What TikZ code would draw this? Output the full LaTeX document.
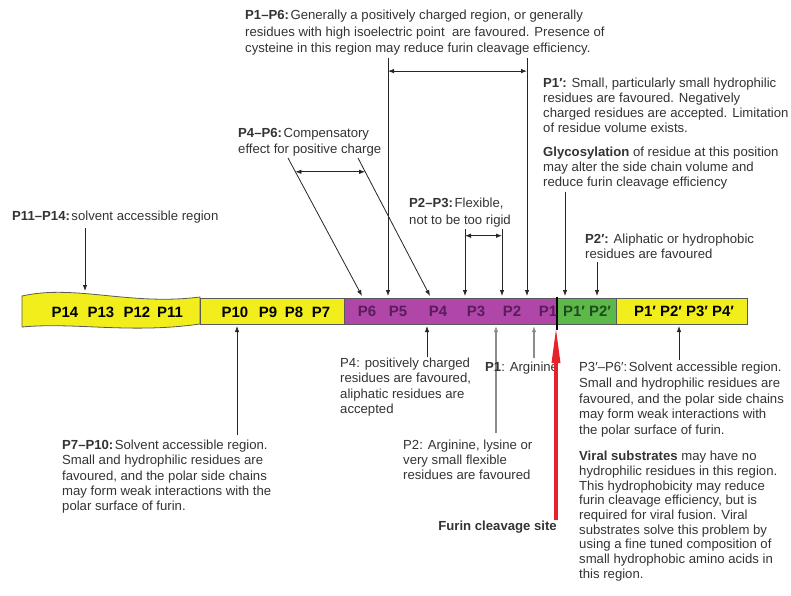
\documentclass[tikz,border=0pt]{standalone}
\usepackage{fontspec}
\setmainfont{Liberation Sans}
\usetikzlibrary{arrows.meta,calc}
\definecolor{segyellow}{HTML}{F2EE1B}
\definecolor{segpurple}{HTML}{B046A8}
\definecolor{seggreen}{HTML}{5DB84A}
\definecolor{inkpurple}{HTML}{5A1C5C}
\definecolor{inkgreen}{HTML}{1E4A1E}
\definecolor{notegray}{HTML}{333333}
\definecolor{cleavred}{HTML}{E5232A}

% tight gap after a bold range tag
\newcommand{\tagsep}{\hspace{1.5bp}}

\tikzset{
  note/.style={font=\fontsize{13.2}{#1}\selectfont, text=notegray, align=left, anchor=north west, inner sep=0pt},
  note/.default=15.3,
  reslbl/.style={font=\fontsize{15}{15}\selectfont\bfseries, inner sep=0pt},
  seg/.style={draw=black!65, line width=0.8bp},
  pin/.style={-{Latex[length=6bp,width=4.5bp]}, line width=0.8bp, draw=black!85},
  softpin/.style={pin, draw=black!45, line width=1.2bp},
  span/.style={{Latex[length=6bp,width=4.5bp]}-{Latex[length=6bp,width=4.5bp]}, line width=0.8bp, draw=black!85}
}

\begin{document}
\begin{tikzpicture}[x=1bp, y=-1bp]
\useasboundingbox (0,0) rectangle (791,596);

% Residue strip
\draw[seg, fill=segyellow] (22,296) .. controls (75,284) and (130,306) .. (200,297)
  -- (200,324) .. controls (130,334) and (75,322) .. (22,327) -- cycle;
\draw[seg, fill=segyellow] (200,298) rectangle (344,324);
\draw[seg, fill=segpurple] (344,298) rectangle (557,324);
\draw[seg, fill=seggreen] (557,298) rectangle (616,324);
\draw[seg, fill=segyellow] (616,298) rectangle (747,324);
\draw[line width=1.6bp] (557,297) -- (557,330);

% Residue labels
\foreach \x/\r in {65/P14, 101/P13, 137/P12, 170/P11, 235/P10, 268/P9, 294/P8, 321/P7}
  \node[reslbl] (\r) at (\x,312) {\r};
\foreach \x/\r in {367/P6, 398/P5, 438/P4, 476/P3, 512/P2, 548/P1}
  \node[reslbl, text=inkpurple] (\r) at (\x,311) {\r};
\node[reslbl, text=inkgreen] (P1pP2p) at (587,311) {P1′ P2′};
\node[reslbl] (P1to4p) at (684,311) {P1′ P2′ P3′ P4′};

% Tips on the strip
\coordinate (tP11) at (85,291);
\coordinate (tP6) at (362,296);
\coordinate (tP5) at (388,296);
\coordinate (tP4) at (430,296);
\coordinate (tP3) at (465,296);
\coordinate (tP2) at (502,296);
\coordinate (tP1) at (527,296);
\coordinate (tP1p) at (565,296);
\coordinate (tP2p) at (597,296);
\coordinate (bP8) at (237,326);
\coordinate (bP4) at (427,326);
\coordinate (bP2) at (496,326);
\coordinate (bP1) at (534,326);
\coordinate (bcut) at (556,327);
\coordinate (bP4p) at (679,326);

% Notes above the strip
\node[note] (n1114) at (12,211) {\textbf{P11–P14:}\tagsep solvent accessible region};
\coordinate (a1114) at (85,228);
\draw[pin] (a1114) -- (tP11);

\node[note=16.5] (n46) at (238,128) {\textbf{P4–P6:}\tagsep Compensatory\\effect for positive charge};
\coordinate (a46l) at (288,158);
\coordinate (a46r) at (358,158);
\draw[pin] (a46l) -- (tP6);
\draw[pin] (a46r) -- (tP4);
\draw[span] ($(a46l)!0.1!(tP6)$) -- ($(a46r)!0.1!(tP4)$);

\node[note=16.5] (n16) at (245,10) {\textbf{P1–P6:}\tagsep Generally a positively charged region, or generally\\
  residues with high isoelectric point\ \ are favoured. Presence of\\
  cysteine in this region may reduce furin cleavage efficiency.};
\coordinate (a16l) at (388,58);
\coordinate (a16r) at (527,58);
\draw[pin] (a16l) -- (tP5);
\draw[pin] (a16r) -- (tP1);
\draw[span] ($(a16l)!0.055!(tP5)$) -- ($(a16r)!0.055!(tP1)$);

\node[note=16.5] (n23) at (409,198) {\textbf{P2–P3:}\tagsep Flexible,\\not to be too rigid};
\coordinate (a23l) at (465,229);
\coordinate (a23r) at (502,229);
\draw[pin] (a23l) -- (tP3);
\draw[pin] (a23r) -- (tP2);
\draw[span] ($(a23l)!0.1!(tP3)$) -- ($(a23r)!0.1!(tP2)$);

\node[note=15] (n1p) at (543,78) {\textbf{P1′:} Small, particularly small hydrophilic\\
  residues are favoured. Negatively\\
  charged residues are accepted. Limitation\\
  of residue volume exists.};
\node[note=15] (glyco) at (543,147) {\textbf{Glycosylation} of residue at this position\\
  may alter the side chain volume and\\
  reduce furin cleavage efficiency};
\coordinate (a1p) at (565,192);
\draw[pin] (a1p) -- (tP1p);

\node[note=15] (n2p) at (585,234) {\textbf{P2′:} Aliphatic or hydrophobic\\residues are favoured};
\coordinate (a2p) at (597,262);
\draw[pin] (a2p) -- (tP2p);

% Notes below the strip
\node[note] (n710) at (62,440) {\textbf{P7–P10:}\tagsep Solvent accessible region.\\
  Small and hydrophilic residues are\\
  favoured, and the polar side chains\\
  may form weak interactions with the\\
  polar surface of furin.};
\coordinate (a710) at (237,435);
\draw[pin] (a710) -- (bP8);

\node[note] (n4) at (340,358) {P4: positively charged\\residues are favoured,\\aliphatic residues are\\accepted};
\coordinate (a4) at (427,357);
\draw[pin] (a4) -- (bP4);

\node[note=15] (n2) at (403,440) {P2: Arginine, lysine or\\very small flexible\\residues are favoured};
\coordinate (a2) at (496,433);
\draw[softpin] (a2) -- (bP2);

\node[note] (n1) at (485,362) {\textbf{P1}: Arginine};
\coordinate (a1) at (534,358);
\draw[softpin] (a1) -- (bP1);

\node[note=15.7] (n36) at (579,362) {P3′–P6′:\tagsep Solvent accessible region.\\
  Small and hydrophilic residues are\\
  favoured, and the polar side chains\\
  may form weak interactions with\\
  the polar surface of furin.};
\node[note=14.75] (viral) at (579,451) {\textbf{Viral substrates} may have no\\
  hydrophilic residues in this region.\\
  This hydrophobicity may reduce\\
  furin cleavage efficiency, but is\\
  required for viral fusion. Viral\\
  substrates solve this problem by\\
  using a fine tuned composition of\\
  small hydrophobic amino acids in\\
  this region.};
\coordinate (a36) at (679,360);
\draw[pin] (a36) -- (bP4p);

% Cleavage site
\node[note, anchor=north east, font=\fontsize{13.2}{15}\selectfont\bfseries] (cut) at (557,521) {Furin cleavage site};
\coordinate (acut) at (556,520);
\draw[cleavred, line width=3.2bp, -{Triangle[length=36bp,width=8bp]}] (acut) -- (bcut);

\end{tikzpicture}
\end{document}
